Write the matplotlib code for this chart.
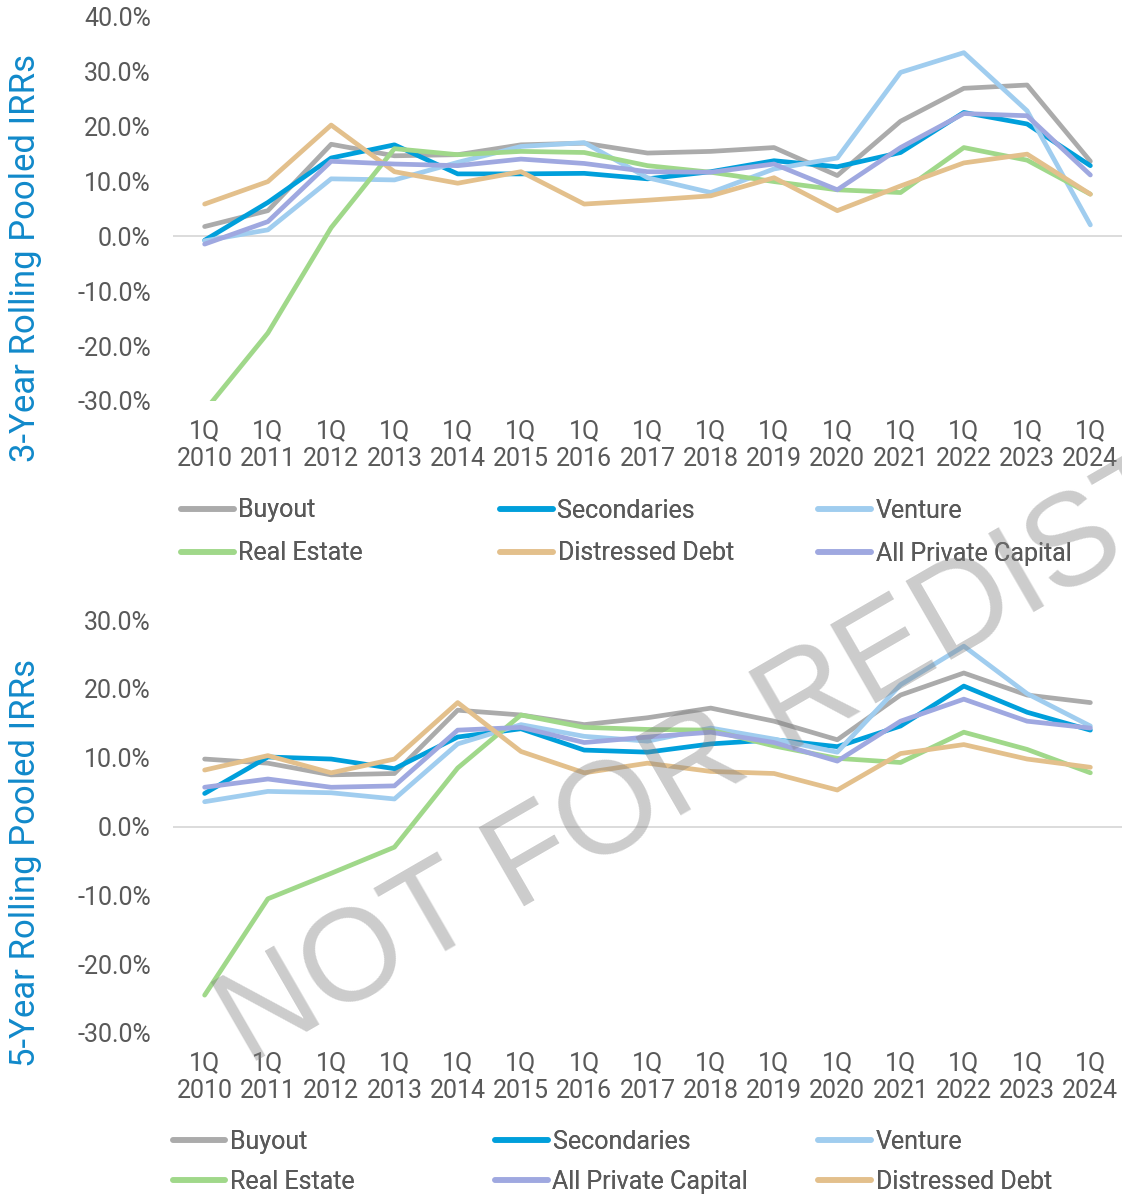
import matplotlib

matplotlib.use("Agg")
import matplotlib.pyplot as plt
from matplotlib.lines import Line2D

plt.rcParams["font.family"] = ["Roboto", "DejaVu Sans"]

# Data (pooled IRRs, %)
years = list(range(2010, 2025))
quarter_labels = [f"1Q\n{y}" for y in years]

buyout_3y = [1.8, 4.7, 16.8, 14.7, 14.9, 16.7, 17.0, 15.2, 15.5, 16.2, 11.1, 21.0, 27.0, 27.6, 13.7]
secondaries_3y = [-0.7, 6.2, 14.3, 16.7, 11.4, 11.4, 11.5, 10.5, 11.8, 13.8, 12.7, 15.3, 22.6, 20.5, 12.9]
venture_3y = [-0.8, 1.2, 10.5, 10.3, 13.5, 16.4, 17.1, 10.7, 8.0, 12.3, 14.3, 29.9, 33.5, 22.9, 2.1]
real_estate_3y = [-31.8, -17.6, 1.6, 16.0, 14.9, 15.5, 15.3, 12.9, 11.7, 10.0, 8.5, 8.0, 16.2, 13.9, 7.7]
distressed_3y = [5.9, 10.0, 20.3, 11.8, 9.7, 11.8, 5.9, 6.6, 7.4, 10.7, 4.7, 9.2, 13.4, 15.0, 7.7]
all_private_3y = [-1.4, 2.7, 13.7, 13.2, 12.9, 14.1, 13.3, 11.8, 11.7, 13.2, 8.5, 16.2, 22.4, 22.0, 11.2]

buyout_5y = [9.8, 9.2, 7.5, 7.7, 16.9, 16.2, 14.8, 15.8, 17.2, 15.3, 12.6, 19.1, 22.3, 19.1, 18.0]
secondaries_5y = [4.8, 10.1, 9.8, 8.4, 13.0, 14.2, 11.1, 10.8, 12.0, 12.6, 11.6, 14.6, 20.4, 16.6, 14.0]
venture_5y = [3.6, 5.1, 4.9, 4.0, 12.0, 14.8, 13.1, 12.4, 14.3, 12.7, 10.8, 20.6, 26.2, 19.3, 14.6]
real_estate_5y = [-24.5, -10.5, -6.8, -3.0, 8.5, 16.2, 14.4, 14.1, 14.0, 11.7, 9.9, 9.3, 13.7, 11.2, 7.8]
distressed_5y = [8.2, 10.3, 7.8, 9.8, 18.0, 10.9, 7.8, 9.2, 8.0, 7.7, 5.3, 10.6, 11.9, 9.8, 8.6]
all_private_5y = [5.7, 6.9, 5.7, 5.9, 14.0, 14.4, 12.2, 13.0, 13.7, 12.2, 9.5, 15.3, 18.5, 15.3, 14.3]

COLORS = {
    "Buyout": "#ABABAB",
    "Secondaries": "#009FDB",
    "Venture": "#A0CDEF",
    "Real Estate": "#A0D88A",
    "Distressed Debt": "#E3C08C",
    "All Private Capital": "#9FA8E0",
}
TEXT = "#595959"
TITLE_BLUE = "#1189CA"
W, H = 1122, 1194


def fx(px):
    return px / W


def fy(py):
    return 1 - py / H


def _setup(fig, top, bottom, ymin, ymax, ylabel, label_y):
    ax = fig.add_axes([fx(173), fy(bottom), fx(W - 173), (bottom - top) / H])
    ax.set_xlim(-0.5, len(years) - 0.5)
    ax.set_ylim(ymin, ymax)
    for s in ax.spines.values():
        s.set_visible(False)
    ax.axhline(0, color="#D9D9D9", lw=1.3, zorder=1)

    ax.set_xticks(range(len(years)))
    ax.set_xticklabels(quarter_labels, linespacing=1.22)
    yt = list(range(ymin, ymax + 1, 10))
    ax.set_yticks(yt)
    ax.set_yticklabels([f"{v:.1f}%" for v in yt])
    ax.tick_params(axis="both", length=0, labelsize=18, labelcolor=TEXT)
    ax.tick_params(axis="x", pad=13)
    ax.tick_params(axis="y", pad=16)

    fig.text(fx(26), fy(label_y), ylabel, rotation=90, ha="center", va="center",
             fontsize=25, color=TITLE_BLUE)
    return ax


def _legend(fig, columns, x_starts, y_mid, spacing):
    for names, x0 in zip(columns, x_starts):
        handles = [Line2D([], [], color=COLORS[n], lw=4, solid_capstyle="round") for n in names]
        leg = fig.legend(handles, names, loc="center left",
                         bbox_to_anchor=(fx(x0), fy(y_mid)), bbox_transform=fig.transFigure,
                         frameon=False, borderpad=0, borderaxespad=0,
                         handlelength=2.1, handletextpad=0.2, labelspacing=spacing,
                         fontsize=18, labelcolor=TEXT)
        fig.add_artist(leg)


def _lines(ax, series):
    for name, values in series:
        ax.plot(range(len(values)), values, color=COLORS[name], lw=3.4,
                solid_capstyle="round", solid_joinstyle="round", zorder=2)


fig = plt.figure(figsize=(W / 100, H / 100), dpi=100, facecolor="white")

ax1 = _setup(fig, 17, 401, -30, 40, "3-Year Rolling Pooled IRRs", 258)
_lines(ax1, [
    ("Buyout", buyout_3y),
    ("Secondaries", secondaries_3y),
    ("Venture", venture_3y),
    ("Real Estate", real_estate_3y),
    ("Distressed Debt", distressed_3y),
    ("All Private Capital", all_private_3y),
])
_legend(fig, [["Buyout", "Real Estate"], ["Secondaries", "Distressed Debt"],
              ["Venture", "All Private Capital"]], [181, 500, 818], 532, 0.76)

ax2 = _setup(fig, 620, 1033, -30, 30, "5-Year Rolling Pooled IRRs", 863)
_lines(ax2, [
    ("Buyout", buyout_5y),
    ("Secondaries", secondaries_5y),
    ("Venture", venture_5y),
    ("Real Estate", real_estate_5y),
    ("All Private Capital", all_private_5y),
    ("Distressed Debt", distressed_5y),
])
_legend(fig, [["Buyout", "Real Estate"], ["Secondaries", "All Private Capital"],
              ["Venture", "Distressed Debt"]], [173, 495, 818], 1162, 0.64)

# Watermark
fig.text(fx(248), fy(1066), "NOT FOR REDISTRIBUTION", rotation=30, rotation_mode="anchor",
         ha="left", va="baseline", fontsize=94, color="#808080", alpha=0.4,
         family=["Liberation Sans", "DejaVu Sans"], zorder=10)

fig.savefig("out.png", dpi=100, facecolor="white")
